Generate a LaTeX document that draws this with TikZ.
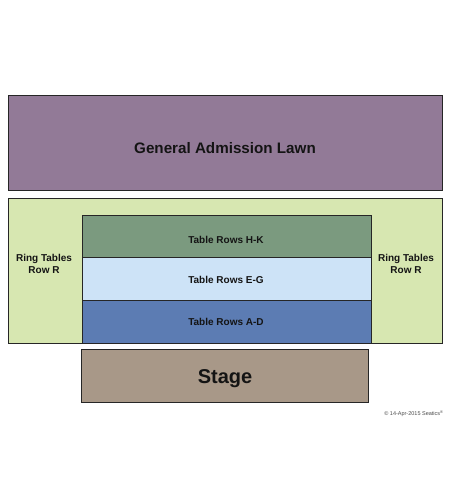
\documentclass[tikz,border=0pt]{standalone}
\usepackage{fontspec}
\setmainfont{Liberation Sans}
\begin{document}
\begin{tikzpicture}[x=1pt,y=-1pt,
  area/.style={draw=black!85,line width=0.8pt},
  lbl/.style={font=\bfseries\fontsize{10}{12}\selectfont,text=black!92,align=center}]
\useasboundingbox (0,0) rectangle (450,500);
\fill[white] (0,0) rectangle (450,500);
\definecolor{ga}{HTML}{927A97}
\definecolor{ring}{HTML}{D7E7B1}
\definecolor{hk}{HTML}{7B9A7F}
\definecolor{eg}{HTML}{CDE3F7}
\definecolor{ad}{HTML}{5C7CB3}
\definecolor{stg}{HTML}{A89888}
\draw[area,fill=ga] (8,95) rectangle (442,190);
\node[lbl,font=\bfseries\fontsize{15.2}{18}\selectfont] (gal) at (225,148) {General Admission Lawn};
\draw[area,fill=ring] (8,198) rectangle (442,343);
\node[lbl] (rl) at (44,264) {Ring Tables\\Row R};
\node[lbl] (rr) at (406,264) {Ring Tables\\Row R};
\draw[area,fill=hk] (82,215) rectangle (371,257);
\draw[area,fill=eg] (82,257) rectangle (371,300);
\draw[area,fill=ad] (82,300) rectangle (371,343);
\node[lbl] (thk) at (226,240) {Table Rows H-K};
\node[lbl] (teg) at (226,280) {Table Rows E-G};
\node[lbl] (tad) at (226,322) {Table Rows A-D};
\draw[area,fill=stg] (81,349) rectangle (368,402);
\node[lbl,font=\bfseries\fontsize{20}{24}\selectfont] (stage) at (225,379) {Stage};
\node[font=\fontsize{5.5}{6}\selectfont,text=black!70,anchor=east] (copy) at (447,414) {© 14-Apr-2015 Seatics\textsuperscript{®}};
\end{tikzpicture}
\end{document}
